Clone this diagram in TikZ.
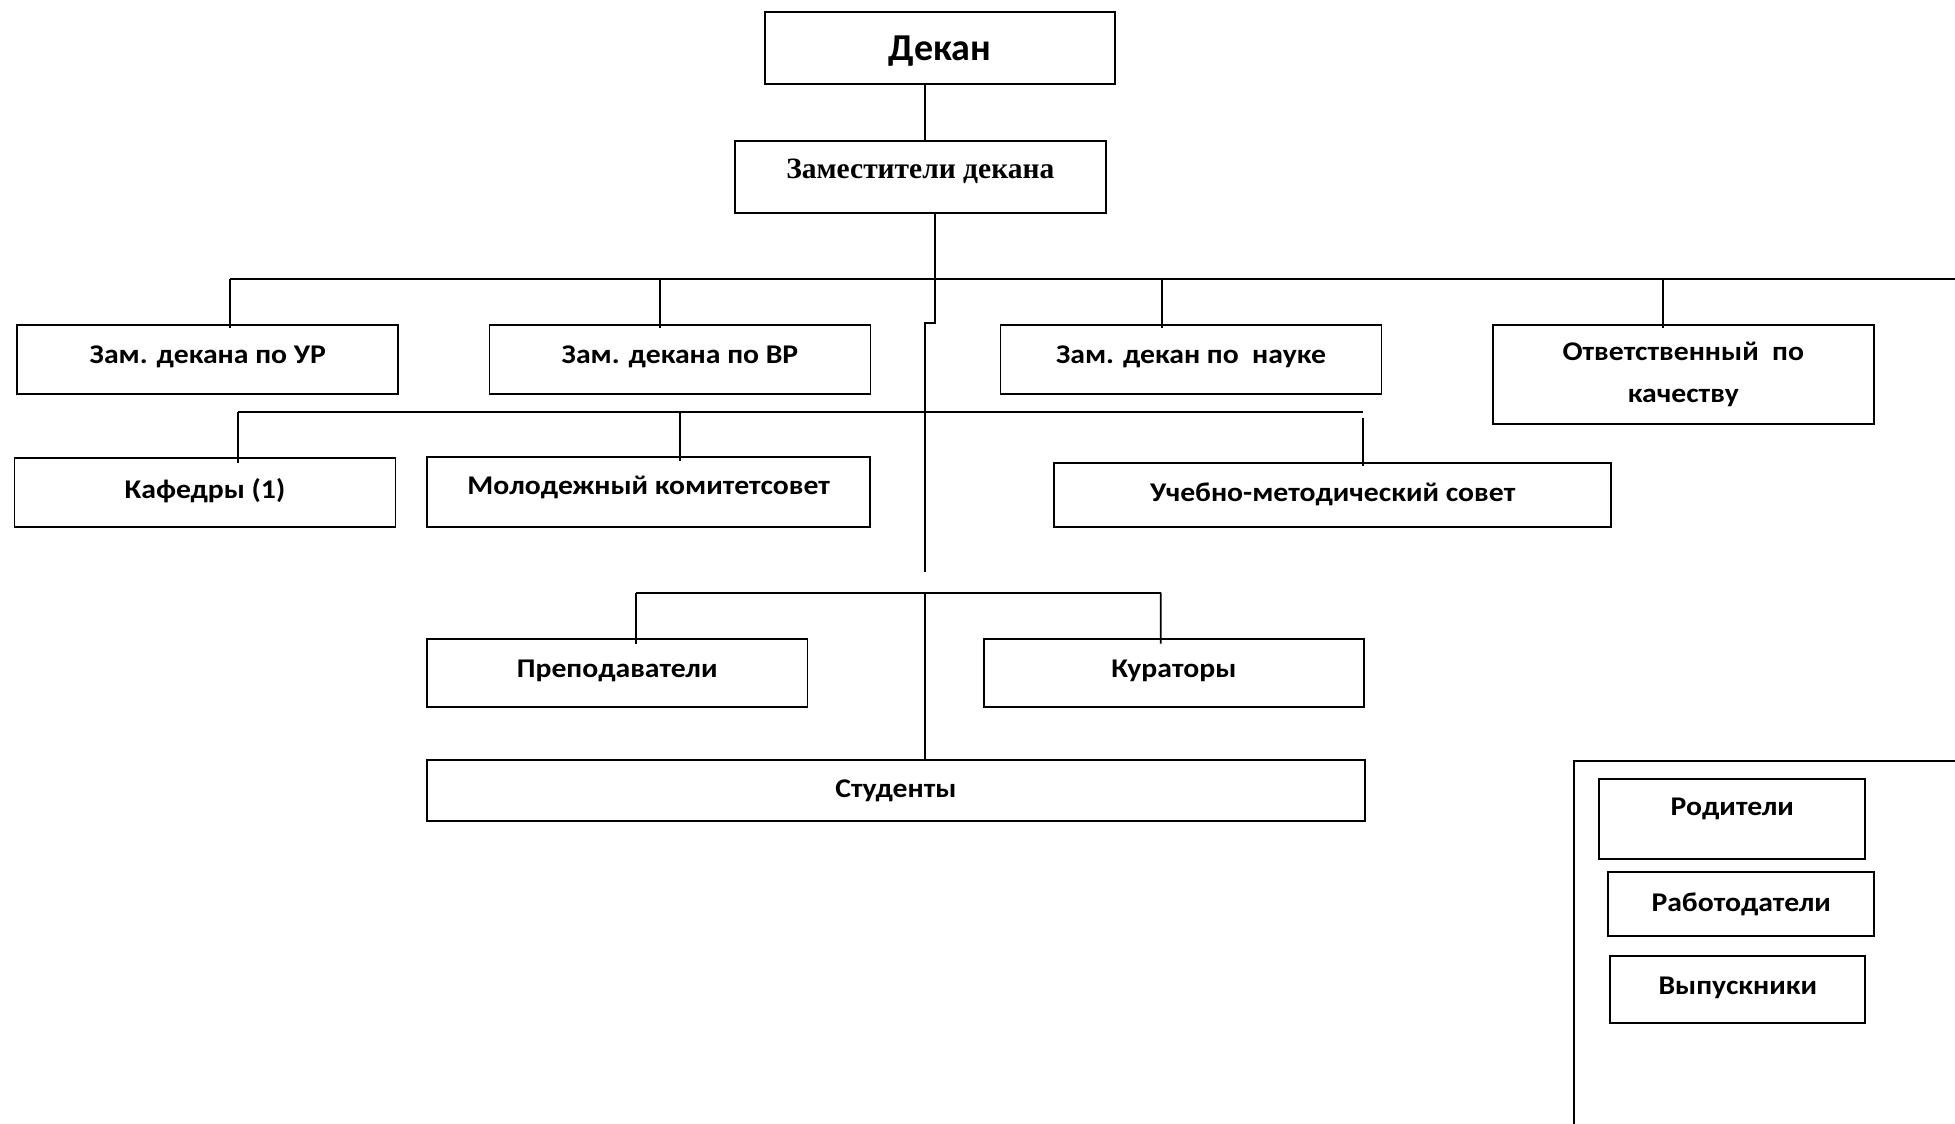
\documentclass[tikz,border=0pt]{standalone}
\usepackage{fontspec}
\usepackage{graphicx}
\setmainfont{Carlito}
\newfontfamily\timesf{Liberation Serif}
\newcommand\wtxt[1]{\scalebox{1.1}[1]{#1}}
\begin{document}
\begin{tikzpicture}[x=1pt,y=-1pt,
  box/.style={draw,line width=1.8pt,inner sep=0pt,align=center,font=\fontsize{27}{42}\selectfont\bfseries},
  conn/.style={line width=1.8pt}]
\useasboundingbox (0,0) rectangle (1955,1124);
% nodes
\node[box,minimum width=350pt,minimum height=72pt,font=\fontsize{38}{42}\selectfont\bfseries,text height=32pt] (dekan) at (940,47.8) {Декан};
\node[box,minimum width=371pt,minimum height=72pt,font=\fontsize{29.5}{32}\selectfont\timesf\bfseries,text depth=16pt] (zam) at (920.3,176.7) {Заместители декана};
\node[box,minimum width=381pt,minimum height=69pt,text depth=9pt] (ur) at (207.8,359.5) {\wtxt{Зам. декана по УР}};
\node[box,minimum width=381pt,minimum height=69pt,text depth=9pt] (vr) at (680,359.5) {\wtxt{Зам. декана по ВР}};
\node[box,minimum width=381pt,minimum height=69pt,text depth=9pt] (nauka) at (1191,359.5) {\wtxt{Зам. декан по\ \ науке}};
\node[box,minimum width=381pt,minimum height=99pt] (otv) at (1683.3,374.5) {\wtxt{Ответственный\ \ по}\\\wtxt{качеству}};
\node[box,minimum width=381pt,minimum height=69pt,text depth=8pt] (kaf) at (205,492.8) {\wtxt{Кафедры (1)}};
\node[box,minimum width=443pt,minimum height=70.6pt,text depth=14pt] (mol) at (648.7,492) {\wtxt{Молодежный комитетсовет}};
\node[box,minimum width=556.7pt,minimum height=64pt] (umc) at (1332.7,494.7) {\wtxt{Учебно-методический совет}};
\node[box,minimum width=380.7pt,minimum height=67.4pt,text depth=9pt] (prep) at (617.2,673) {\wtxt{Преподаватели}};
\node[box,minimum width=379.4pt,minimum height=67.4pt,text depth=9pt] (kur) at (1173.9,673) {\wtxt{Кураторы}};
\node[box,minimum width=938pt,minimum height=61pt] (stud) at (896,790.5) {\wtxt{Студенты}};
\node[box,minimum width=266pt,minimum height=80pt,text depth=24pt] (rod) at (1732.3,819) {\wtxt{Родители}};
\node[box,minimum width=265.7pt,minimum height=64pt] (rab) at (1741.2,904) {\wtxt{Работодатели}};
\node[box,minimum width=255pt,minimum height=67.3pt,text depth=8pt] (vyp) at (1737.8,989.7) {\wtxt{Выпускники}};
% bus coordinates
\coordinate (busA) at (229.6,279);
\coordinate (busAend) at (1955,279);
\coordinate (jogA) at (934.7,323.3);
\coordinate (jogB) at (925,323.3);
\coordinate (spineEnd) at (925,571.7);
\coordinate (busB) at (238.2,411.7);
\coordinate (busBend) at (1363.3,411.7);
\coordinate (umcTop) at (1363.3,417.7);
\coordinate (busC) at (636,592.7);
\coordinate (busCend) at (1160.8,592.7);
\coordinate (spineC) at (925,592.7);
% connectors
\draw[conn] ([xshift=-14.7pt]dekan.south) -- ([xshift=5pt]zam.north);
\draw[conn] ([xshift=14.4pt]zam.south) -- (jogA) -- (jogB) -- (spineEnd);
\draw[conn] (busA) -- (busAend);
\draw[conn] (busA) -- ([xshift=21.8pt,yshift=-4.3pt]ur.north);
\draw[conn] ([xshift=-20.4pt]vr.north |- busA) -- ([xshift=-20.4pt,yshift=-4.3pt]vr.north);
\draw[conn] ([xshift=-29.3pt]nauka.north |- busA) -- ([xshift=-29.3pt,yshift=-4.3pt]nauka.north);
\draw[conn] ([xshift=-20.6pt]otv.north |- busA) -- ([xshift=-20.6pt,yshift=-4.3pt]otv.north);
\draw[conn] (busB) -- (busBend);
\draw[conn] (busB) -- ([xshift=33.2pt,yshift=-5.6pt]kaf.north);
\draw[conn] ([xshift=31.6pt]mol.north |- busB) -- ([xshift=31.6pt,yshift=-5pt]mol.north);
\draw[conn] (umcTop) -- ([xshift=30.6pt,yshift=-4.4pt]umc.north);
\draw[conn] (busC) -- (busCend);
\draw[conn] (busC) -- ([xshift=18.8pt,yshift=-5.3pt]prep.north);
\draw[conn] (busCend) -- ([xshift=-13.1pt,yshift=-5.3pt]kur.north);
\draw[conn] (spineC) -- (spineC |- stud.north);
% external frame
\draw[conn] (1955,760.7) -- (1574,760.7) -- (1574,1124);
\end{tikzpicture}
\end{document}
